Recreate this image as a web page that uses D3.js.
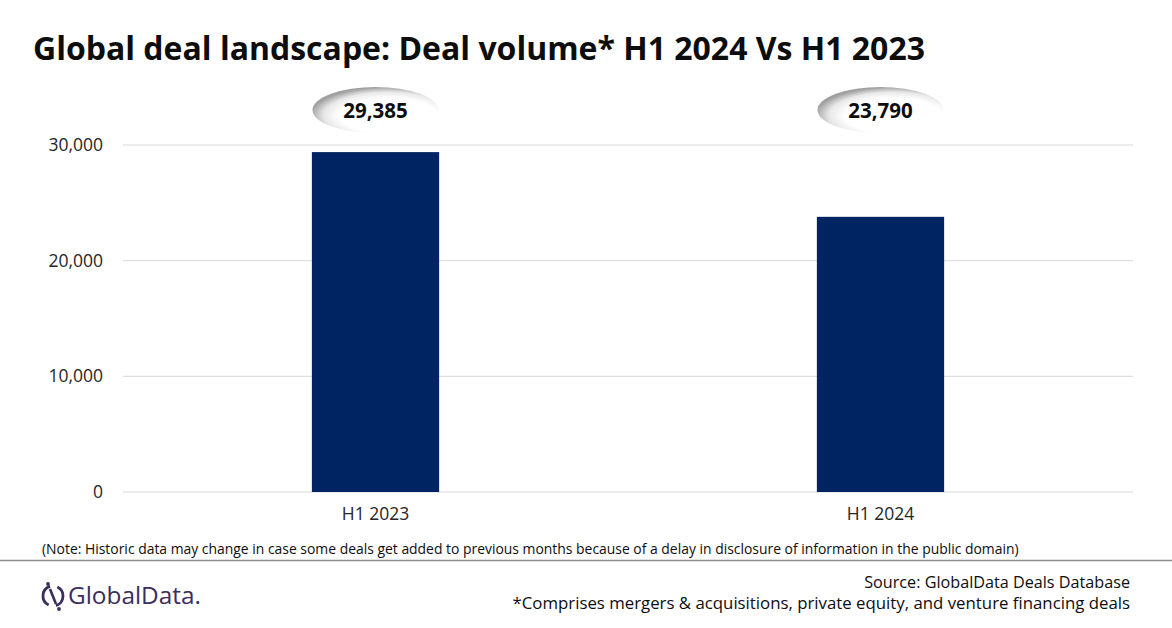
<!DOCTYPE html>
<html lang="en">
<head>
<meta charset="UTF-8">
<title>Global deal landscape</title>
<script src="https://d3js.org/d3.v7.min.js"></script>
<style>
    body { margin: 0; background: #fff; }
    text { font-family: "Open Sans", "Noto Sans", sans-serif; }
</style>
</head>
<body>
<div id="chart"></div>
<script>
// chart data
var categories = ["H1 2023", "H1 2024"];
var dealVolume = [29385, 23790];
var yTicks = [0, 10000, 20000, 30000];

var width = 1172, height = 628;
var margin = { top: 145, right: 39, bottom: 136, left: 123 };

var svg = d3.select("#chart").append("svg")
    .attr("width", width)
    .attr("height", height);

var defs = svg.append("defs");
var grad = defs.append("radialGradient")
    .attr("id", "bubble")
    .attr("cx", "60%").attr("cy", "62%").attr("r", "62%");
grad.append("stop").attr("offset", "0%").attr("stop-color", "#ffffff");
grad.append("stop").attr("offset", "62%").attr("stop-color", "#ffffff");
grad.append("stop").attr("offset", "82%").attr("stop-color", "#e8e8e8");
grad.append("stop").attr("offset", "100%").attr("stop-color", "#a0a0a0");

// helper: shrink/grow font so text fits a target width
function fitText(sel, target) {
    var size = parseFloat(sel.attr("font-size"));
    var w = sel.node().getComputedTextLength();
    sel.attr("font-size", (size * target / w).toFixed(2));
}

// title
var title = svg.append("text")
    .attr("x", 33).attr("y", 60)
    .attr("font-size", 30).attr("font-weight", 700)
    .attr("fill", "#0d0d0d")
    .text("Global deal landscape: Deal volume* H1 2024 Vs H1 2023");
fitText(title, 892);

var plotW = width - margin.left - margin.right;
var plotH = height - margin.top - margin.bottom;

var x = d3.scaleBand()
    .domain(categories)
    .range([margin.left, margin.left + plotW]);

var y = d3.scaleLinear()
    .domain([0, 30000])
    .range([margin.top + plotH, margin.top]);

// gridlines
svg.append("g")
    .selectAll("line")
    .data(yTicks)
    .enter().append("line")
    .attr("x1", margin.left)
    .attr("x2", margin.left + plotW)
    .attr("y1", function(d) { return y(d); })
    .attr("y2", function(d) { return y(d); })
    .attr("stroke", "#d9d9d9")
    .attr("stroke-width", 1);

// y axis labels
var yAxis = svg.append("g")
    .attr("transform", "translate(" + (margin.left - 20) + ",0)")
    .call(d3.axisLeft(y).tickValues(yTicks).tickSize(0).tickPadding(0)
        .tickFormat(d3.format(",")));
yAxis.select(".domain").remove();
yAxis.selectAll("text")
    .attr("font-family", "'Open Sans', sans-serif")
    .attr("font-size", 17.5)
    .attr("fill", "#262626");

// x axis labels
var xAxis = svg.append("g")
    .attr("transform", "translate(0," + (margin.top + plotH) + ")")
    .call(d3.axisBottom(x).tickSize(0).tickPadding(16));
xAxis.select(".domain").remove();
xAxis.selectAll("text")
    .attr("font-family", "'Open Sans', sans-serif")
    .attr("font-size", 17.5)
    .attr("fill", "#262626");

// bars
var barW = x.bandwidth() * 0.252;
svg.append("g")
    .selectAll("rect")
    .data(dealVolume)
    .enter().append("rect")
    .attr("x", function(d, i) { return x(categories[i]) + x.bandwidth() / 2 - barW / 2; })
    .attr("y", function(d) { return y(d); })
    .attr("width", barW)
    .attr("height", function(d) { return y(0) - y(d); })
    .attr("fill", "#002361");

// value bubbles
var bubbles = svg.append("g")
    .selectAll("g")
    .data(dealVolume)
    .enter().append("g")
    .attr("transform", function(d, i) {
        return "translate(" + (x(categories[i]) + x.bandwidth() / 2) + ",110)";
    });
bubbles.append("ellipse")
    .attr("rx", 63).attr("ry", 23)
    .attr("fill", "url(#bubble)");
bubbles.append("text")
    .attr("text-anchor", "middle")
    .attr("y", 7.5)
    .attr("font-size", 20.5)
    .attr("font-weight", 700)
    .attr("fill", "#0d0d0d")
    .text(function(d) { return d3.format(",")(d); });

// note
var note = svg.append("text")
    .attr("x", 42).attr("y", 554)
    .attr("font-size", 13)
    .attr("fill", "#0d0d0d")
    .text("(Note: Historic data may change in case some deals get added to previous months because of a delay in disclosure of information in the public domain)");
fitText(note, 977);

svg.append("line")
    .attr("x1", 0).attr("x2", width)
    .attr("y1", 560.5).attr("y2", 560.5)
    .attr("stroke", "#8c8c8c")
    .attr("stroke-width", 1.5);

// source lines
var src1 = svg.append("text")
    .attr("x", 1130).attr("y", 588)
    .attr("text-anchor", "end")
    .attr("font-size", 15)
    .attr("fill", "#0d0d0d")
    .text("Source: GlobalData Deals Database");
fitText(src1, 266);
var src2 = svg.append("text")
    .attr("x", 1130).attr("y", 609)
    .attr("text-anchor", "end")
    .attr("font-size", 15)
    .attr("fill", "#0d0d0d")
    .text("*Comprises mergers & acquisitions, private equity, and venture financing deals");
fitText(src2, 618);

// logo
var logo = svg.append("g").attr("transform", "translate(53,596)");
var purple = "#3b2d5c";
logo.append("path")
    .attr("d", d3.arc()({ innerRadius: 8.6, outerRadius: 11.4, startAngle: 0.45, endAngle: Math.PI - 0.3 }))
    .attr("fill", purple);
logo.append("path")
    .attr("d", d3.arc()({ innerRadius: 8.6, outerRadius: 11.4, startAngle: Math.PI + 0.45, endAngle: 2 * Math.PI - 0.3 }))
    .attr("fill", purple);
logo.append("line")
    .attr("x1", -3).attr("y1", -7).attr("x2", 3).attr("y2", 8)
    .attr("stroke", purple).attr("stroke-width", 2.6);
logo.append("circle").attr("cx", -5).attr("cy", -12).attr("r", 1.9).attr("fill", purple);
logo.append("circle").attr("cx", 6).attr("cy", 13).attr("r", 1.9).attr("fill", purple);
var logoText = logo.append("text")
    .attr("x", 15).attr("y", 8)
    .attr("font-family", "Lato, 'Open Sans', sans-serif")
    .attr("font-size", 22)
    .attr("font-weight", 500)
    .attr("fill", purple)
    .text("GlobalData.");
fitText(logoText, 133);
</script>
</body>
</html>
